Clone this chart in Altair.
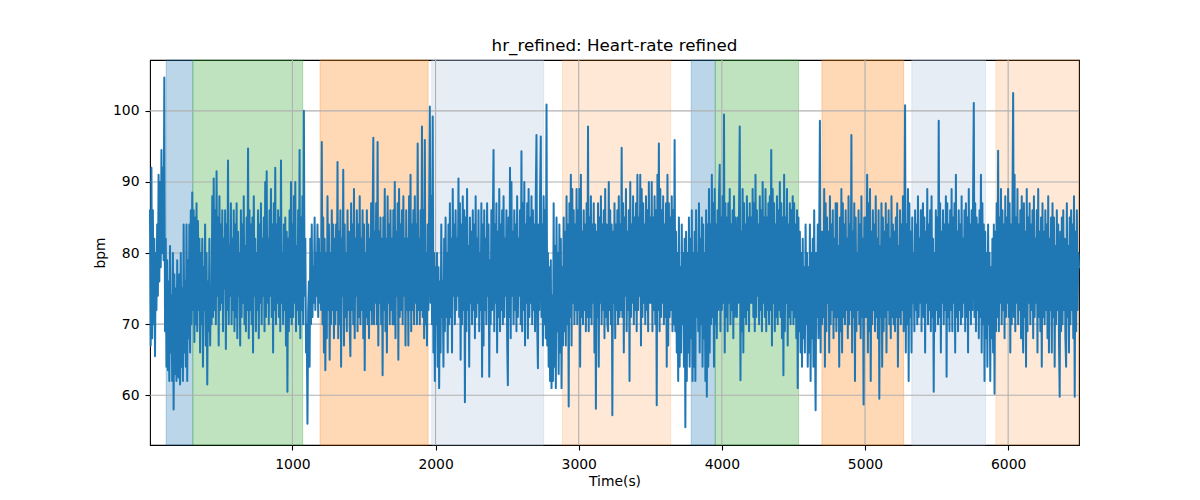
import altair as alt
import pandas as pd

# ---- data (one value every 5 s) ----
sample_step_s = 5
first_time_s = 5
hr_bpm = [
    86, 67, 92, 68, 86, 70, 82, 65.5, 80, 72, 84, 74, 91, 76, 90, 78, 94.5, 80, 92, 79,
    104.7, 69, 82, 64, 79, 63.5, 76, 62, 81, 66, 74, 62, 80, 58, 77, 63, 75, 62, 79, 64,
    62.5, 77, 61.5, 80, 64, 75, 62, 84, 66, 76, 64, 84, 62, 79, 68, 84, 66, 86, 70, 88.5,
    72, 86, 67.5, 85, 70, 87, 69, 84.5, 72, 82, 66, 80, 70, 82, 64, 78, 72, 84, 67, 80,
    61.5, 76, 69, 82, 67, 75, 70, 88, 71, 90.5, 72, 86, 70, 91.5, 74, 85, 67, 88, 72, 84,
    73, 86, 69, 82, 75, 86, 66.5, 84, 72, 93, 70, 81, 74, 87, 70, 82, 72, 86, 69, 84,
    71, 87, 68, 83, 74, 80, 67, 86, 71, 84, 73, 88, 70, 81, 69, 85, 72, 94.7, 68, 86,
    72, 84, 70, 85, 66, 88, 74, 82, 69, 80, 72, 86, 68, 84, 73, 87, 70, 82, 74, 85,
    69, 90, 71, 91.5, 73, 82, 70, 86, 74, 89, 71, 84, 66, 87, 72, 92, 70, 84, 73, 86,
    71, 85, 69, 93, 73, 80, 70, 84, 72, 85, 67, 83, 60.5, 82, 69, 86, 71, 90, 70, 84,
    71, 88, 73, 90, 69, 81, 72, 86, 70, 94.5, 68, 85, 72, 88, 70, 100, 74, 82, 66, 70,
    56, 72, 76, 64, 82, 70, 84, 71, 78, 73, 85, 72, 80, 74, 84, 71, 82, 73, 80, 72,
    95.6, 70, 85, 66, 82, 63.5, 80, 68, 88, 72, 84, 65, 80, 70, 86, 72, 84, 68, 82, 70,
    84, 72, 92.8, 68, 83, 70, 86, 64, 82, 74, 91.7, 67, 84, 71, 80, 69, 86, 72, 83, 70,
    65.5, 87, 72, 84, 70, 89, 68, 82, 74, 86, 69, 84, 71, 88, 70, 82, 72, 86, 68, 84,
    63.5, 80, 71, 86, 70, 84, 68, 82, 72, 87, 70, 84, 96.2, 70, 83, 73, 87, 70, 95.6, 67,
    83, 73, 85, 70, 82, 62.8, 85, 72, 89, 69, 82, 66, 88, 73, 84, 70, 86, 72, 82, 70,
    86, 70, 90, 68, 83, 74, 87, 65, 89, 71, 84, 72, 86, 70, 88, 74, 82, 67, 86, 72,
    82, 67, 88, 72, 91, 69, 84, 72, 86, 70, 88, 73, 84, 70, 95.4, 72, 82, 70, 86, 72,
    97.8, 71, 86, 68, 95.9, 70, 80, 67, 84, 72, 86, 100.6, 73, 88, 70, 99.2, 66, 80, 62, 78,
    70, 80, 64, 78, 61, 76, 66, 84, 71, 76, 64, 82, 69, 85, 71, 80, 66, 84, 70, 87,
    71, 82, 66, 89, 74, 84, 70, 86, 72, 82, 74, 90.5, 71, 87, 65, 84, 70, 88, 72, 86,
    59, 85, 69, 89, 72, 81, 64, 85, 73, 83, 70, 86, 72, 84, 68, 88, 71, 82, 73, 86,
    69, 80, 72, 87, 62.6, 84, 67, 86, 72, 82, 70, 87, 74, 84, 62.6, 79, 70, 86, 72, 84,
    94.5, 69, 84, 73, 87, 66, 83, 71, 89, 69, 84, 72, 86, 70, 88, 71, 82, 74, 86, 68,
    61.4, 85, 71, 92, 68, 90, 74, 83, 70, 86, 72, 84, 69, 88, 71, 82, 74, 86, 70, 94.3,
    69, 87, 72, 90, 67, 84, 73, 87, 68, 89, 71, 85, 73, 88, 70, 86, 72, 84, 69, 88,
    96.6, 70, 63.8, 84, 72, 88, 96.4, 71, 84, 67, 88, 70, 86, 68, 100.9, 67, 80, 64, 78, 62,
    79, 61, 74, 62, 87, 64, 81, 61, 85, 69, 80, 63, 84, 66, 82, 61, 78, 67, 85, 69,
    83, 67, 88, 70, 84, 58.4, 87, 71, 91, 67, 89, 73, 86, 70, 84, 72, 89, 70, 86, 72,
    89, 64, 91, 71, 83, 70, 86, 72, 84, 69, 87, 71, 97.8, 69, 85, 71, 88, 70, 84, 73,
    87, 66, 84, 58.1, 83, 71, 87, 64, 85, 73, 88, 70, 84, 72, 86, 68, 89, 71, 84, 70,
    69, 90, 72, 86, 70, 84, 57.2, 83, 73, 87, 68, 84, 72, 86, 70, 88, 71, 84, 72, 94.8,
    71, 87, 66, 85, 74, 89, 69, 83, 72, 86, 62, 90, 71, 84, 73, 88, 70, 85, 72, 87,
    69, 91, 72, 85, 74, 91, 67, 89, 71, 87, 73, 84, 70, 88, 72, 86, 69, 90, 73, 85,
    73, 90, 69, 85, 72, 88, 70, 86, 58.6, 91, 72, 95.4, 69, 89, 71, 86, 73, 88, 70, 84,
    71, 87, 64, 91, 67, 87, 71, 85, 72, 88, 69, 86, 70, 95.9, 69, 83, 66, 80, 62, 85,
    64, 78, 66, 84, 70, 80, 64, 82, 55.5, 83, 62, 80, 66, 85, 64, 82, 68, 86, 62, 80,
    64, 83, 62, 86, 71, 80, 69, 87, 66, 82, 70, 85, 64, 84, 68, 80, 62, 86, 59.8, 84,
    64, 89, 66, 84, 70, 91, 71, 87, 64, 89, 70, 84, 68, 86, 72, 88, 92.4, 69, 85, 72,
    88, 73, 99.5, 66, 87, 71, 85, 69, 87, 73, 89, 70, 84, 72, 86, 68, 88, 71, 85, 73,
    71, 85, 73, 86, 97.8, 62.1, 83, 69, 89, 66, 87, 71, 84, 70, 88, 72, 85, 69, 87, 73,
    85, 73, 89, 71, 87, 69, 91, 71, 86, 74, 84, 70, 88, 72, 86, 69, 90, 73, 85, 71,
    89, 69, 85, 72, 87, 70, 88, 72, 94.5, 67, 89, 73, 87, 69, 84, 71, 88, 70, 86, 72,
    90, 71, 87, 68, 85, 62.8, 91, 69, 85, 73, 89, 67, 84, 71, 87, 70, 86, 72, 88, 70,
    87, 71, 84, 68, 86, 61, 85, 69, 83, 66, 80, 64, 82, 68, 78, 66, 84, 70, 80, 64,
    78, 66, 84, 62, 80, 68, 82, 64, 86, 70, 57.9, 80, 71, 84, 68, 82, 98.6, 66, 83, 70,
    83, 71, 89, 64, 87, 69, 85, 73, 83, 66, 88, 70, 84, 72, 86, 68, 82, 71, 87, 69,
    87, 71, 81, 64, 85, 69, 89, 66, 87, 71, 84, 70, 86, 72, 82, 68, 88, 70, 84, 72,
    96.6, 66, 83, 71, 87, 62, 85, 69, 80, 72, 86, 70, 84, 68, 88, 71, 82, 58.7, 85, 71,
    85, 71, 91, 66, 87, 69, 89, 62, 83, 70, 86, 72, 84, 69, 88, 71, 82, 68, 86, 59.5,
    81, 71, 87, 64, 85, 69, 83, 71, 87, 66, 84, 72, 86, 70, 82, 68, 88, 71, 84, 70,
    83, 69, 85, 71, 87, 64, 81, 71, 86, 70, 84, 72, 88, 69, 82, 100.8, 66, 84, 70, 89,
    62, 87, 71, 83, 66, 85, 73, 80, 69, 86, 72, 84, 70, 88, 71, 82, 73, 86, 69, 84,
    87, 71, 85, 66, 83, 73, 89, 70, 84, 72, 86, 69, 88, 71, 82, 60.5, 80, 69, 86, 72,
    85, 70, 98.6, 71, 87, 66, 83, 73, 86, 70, 84, 72, 88, 62.6, 87, 71, 84, 69, 86, 72,
    89, 69, 85, 73, 87, 66, 91, 71, 83, 69, 86, 72, 84, 70, 88, 71, 82, 73, 86, 69,
    87, 71, 85, 66, 89, 72, 84, 70, 86, 72, 88, 101.1, 71, 87, 69, 85, 72, 84, 68, 86,
    71, 91, 66, 87, 70, 84, 62, 83, 68, 80, 64, 84, 70, 80, 62, 78, 68, 82, 66, 84,
    60.2, 83, 69, 87, 71, 94.4, 69, 85, 73, 89, 70, 86, 72, 84, 68, 88, 71, 85, 73, 89,
    71, 87, 66, 84, 70, 86, 102.5, 71, 91, 69, 85, 73, 89, 70, 84, 72, 86, 68, 88, 71,
    66, 87, 71, 83, 64, 89, 69, 85, 73, 87, 70, 84, 72, 86, 68, 88, 71, 82, 73, 86,
    66, 89, 71, 83, 69, 85, 64, 87, 71, 83, 70, 86, 72, 84, 68, 88, 66, 82, 72, 85,
    66, 87, 71, 85, 64, 81, 70, 86, 72, 84, 68, 59.8, 83, 69, 85, 70, 86, 72, 82, 68,
    64, 87, 71, 81, 66, 85, 70, 86, 72, 84, 68, 88, 59.8, 83, 69, 86, 72, 80, 78,
]

band_start = [118, 304, 1193, 1973, 2886, 3786, 3954, 4699, 5327, 5914]
band_end = [304, 1072, 1948, 2755, 3642, 3954, 4536, 5270, 5842, 6495]
band_color = ["#1f77b4", "#2ca02c", "#ff7f0e", "#b0c4de", "#ff7f0e",
              "#1f77b4", "#2ca02c", "#ff7f0e", "#b0c4de", "#ff7f0e"]
band_alpha = [0.3, 0.3, 0.3, 0.3, 0.17, 0.3, 0.3, 0.3, 0.3, 0.17]

x_ticks = [1000, 2000, 3000, 4000, 5000, 6000]
y_ticks = [60, 70, 80, 90, 100]
x_domain = [5, 6495]
y_domain = [53.0, 107.15]

# ---- tables ----
line_df = pd.DataFrame({
    "t": [first_time_s + sample_step_s * i for i in range(len(hr_bpm))],
    "bpm": hr_bpm,
})
bands_df = pd.DataFrame({"start": band_start, "end": band_end,
                         "color": band_color, "alpha": band_alpha})
xgrid_df = pd.DataFrame({"t": x_ticks})
ygrid_df = pd.DataFrame({"bpm": y_ticks})

FONT = "DejaVu Sans"
xscale = alt.Scale(domain=x_domain, nice=False, zero=False)
yscale = alt.Scale(domain=y_domain, nice=False, zero=False)
xaxis = alt.Axis(values=x_ticks, title="Time(s)", format="d", labelPadding=7)
yaxis = alt.Axis(values=y_ticks, title="bpm", format="d", labelPadding=6)

bands = alt.Chart(bands_df).mark_rect(strokeWidth=1).encode(
    x=alt.X("start:Q", scale=xscale, axis=xaxis),
    x2="end:Q",
    fill=alt.Fill("color:N", scale=None),
    stroke=alt.Stroke("color:N", scale=None),
    fillOpacity=alt.FillOpacity("alpha:Q", scale=None),
    strokeOpacity=alt.StrokeOpacity("alpha:Q", scale=None),
)

xgrid = alt.Chart(xgrid_df).mark_rule(color="#b0b0b0", strokeWidth=1.1).encode(
    x=alt.X("t:Q", scale=xscale, axis=xaxis),
)
ygrid = alt.Chart(ygrid_df).mark_rule(color="#b0b0b0", strokeWidth=1.1).encode(
    y=alt.Y("bpm:Q", scale=yscale, axis=yaxis),
)

line = alt.Chart(line_df).mark_line(
    color="#1f77b4", strokeWidth=2, strokeJoin="round", strokeCap="square"
).encode(
    x=alt.X("t:Q", scale=xscale, axis=xaxis),
    y=alt.Y("bpm:Q", scale=yscale, axis=yaxis),
)

chart = alt.layer(bands, xgrid, ygrid, line).properties(
    width=929,
    height=385,
    title=alt.TitleParams(
        "hr_refined: Heart-rate refined",
        font=FONT, fontSize=16.7, fontWeight="normal", color="black",
        anchor="middle", frame="group", baseline="alphabetic", offset=9, dy=17,
    ),
    autosize=alt.AutoSizeParams(type="none"),
    padding={"left": 142, "top": 52, "right": 113, "bottom": 47},
).configure_axis(
    labelFont=FONT, labelFontSize=13.9, labelColor="black",
    titleFont=FONT, titleFontSize=13.9, titleFontWeight="normal", titleColor="black",
    tickColor="black", tickSize=5, tickWidth=1.1,
    grid=False, domain=False,
).configure_axisX(titlePadding=4).configure_axisY(titlePadding=5).configure_view(
    stroke="black", strokeWidth=1.1
)

chart.save("out.html", embed_options={"renderer": "svg", "actions": False})
